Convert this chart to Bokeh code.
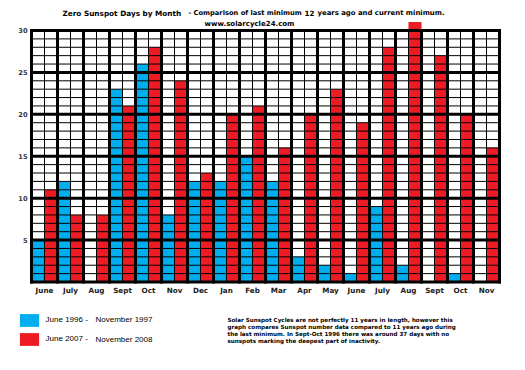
from bokeh.plotting import figure
from bokeh.models import Label, Legend, LegendItem
from bokeh.core.properties import value
from bokeh.embed import file_html
from bokeh.resources import INLINE

# ---- data ----
months = ["June", "July", "Aug", "Sept", "Oct", "Nov", "Dec", "Jan", "Feb",
          "Mar", "Apr", "May", "June", "July", "Aug", "Sept", "Oct", "Nov"]
spotless_1996_97 = [5, 12, 0, 23, 26, 8, 12, 12, 15, 12, 3, 2, 1, 9, 2, 0, 1, 0]
spotless_2007_08 = [11, 8, 8, 21, 28, 24, 13, 20, 21, 16, 20, 23, 19, 28, 31, 27, 20, 16]
y_ticks = [5, 10, 15, 20, 25, 30]
series_start = ["June 1996 -", "June 2007 -"]
series_end = ["November 1997", "November 2008"]
title_parts = ["Zero Sunspot Days by Month", "- Comparison of last minimum", "12",
               "years ago and current minimum."]
subtitle = "www.solarcycle24.com"
note_lines = [
    "Solar Sunspot Cycles are not perfectly 11 years in length, however this",
    "graph compares Sunspot number data compared to 11 years ago during",
    "the last minimum. In Sept-Oct 1996 there was around 37 days with no",
    "sunspots marking the deepest part of inactivity.",
]

BLUE = "#00AEEF"
RED = "#ED1C24"

W, H = 525, 370
n_cols = 2 * len(months)
y_max = max(y_ticks)
X0_PX, PX_X = 31.0, 13.0          # page x of value 0, px per column
Y0_PX, PX_Y = 281.5, 251.5 / 30   # page y of value 0, px per unit

def fx(px):
    return px
def fy(py):
    return H - py

p = figure(width=W, height=H,
           x_range=(-X0_PX / PX_X, (W - X0_PX) / PX_X),
           y_range=(-(H - Y0_PX) / PX_Y, Y0_PX / PX_Y),
           output_backend="svg", toolbar_location=None,
           x_axis_location=None, y_axis_location=None,
           min_border=0, min_border_left=0, min_border_right=0,
           min_border_top=0, min_border_bottom=0)
p.outline_line_color = None
p.grid.visible = False
p.background_fill_color = "white"
p.border_fill_color = "white"

xb = [2 * i + 0.5 for i in range(len(months))]
xr = [2 * i + 1.5 for i in range(len(months))]
rb = p.vbar(x=xb, top=spotless_1996_97, width=1, bottom=0, fill_color=BLUE, line_color=None)
rr = p.vbar(x=xr, top=spotless_2007_08, width=1, bottom=0, fill_color=RED, line_color=None)

# grid lines drawn over bars
thin_v = [k for k in range(n_cols + 1) if k % 2 == 1]
thick_v = [k for k in range(n_cols + 1) if k % 2 == 0]
thin_h = [k for k in range(0, y_max + 1) if k % 5 != 0]
thick_h = [0] + y_ticks
p.segment(x0=thin_v, y0=[0] * len(thin_v), x1=thin_v, y1=[y_max] * len(thin_v),
          line_color="black", line_width=1)
p.segment(x0=[0] * len(thin_h), y0=thin_h, x1=[n_cols] * len(thin_h), y1=thin_h,
          line_color="black", line_width=1)
p.segment(x0=thick_v, y0=[0] * len(thick_v), x1=thick_v, y1=[y_max] * len(thick_v),
          line_color="black", line_width=3, line_cap="square")
p.segment(x0=[0] * len(thick_h), y0=thick_h, x1=[n_cols] * len(thick_h), y1=thick_h,
          line_color="black", line_width=3, line_cap="square")

# tick labels
month_centers = [2 * i + 1 for i in range(len(months))]
p.text(x=month_centers, y=[0] * len(months), text=months, y_offset=8,
       text_align="center", text_baseline="middle", text_font=value("DejaVu Sans"),
       text_font_style="bold", text_font_size="7.2px", text_color="#222222")
p.text(x=[0] * len(y_ticks), y=y_ticks, text=[str(t) for t in y_ticks], x_offset=-4,
       text_align="right", text_baseline="middle", text_font=value("DejaVu Sans"),
       text_font_style="bold", text_font_size="6.6px", text_color="#333333")

# titles
tfont = dict(text_font="DejaVu Sans", text_font_style="bold",
             text_color="black", text_baseline="middle", x_units="screen", y_units="screen")
title_x = [62, 188, 304, 317]
title_sizes = ["7.3px", "6.7px", "7.2px", "6.9px"]
for px, part, sz in zip(title_x, title_parts, title_sizes):
    p.add_layout(Label(x=fx(px), y=fy(12.5), text=part, text_font_size=sz, **tfont))
p.add_layout(Label(x=fx(249), y=fy(23), text=subtitle, text_align="center",
                   text_font_size="7px", **tfont))

# legend
legend = Legend(items=[LegendItem(label=series_start[0], renderers=[rb]),
                       LegendItem(label=series_start[1], renderers=[rr])],
                location=(16.6, 23.4), orientation="vertical",
                glyph_width=24, glyph_height=16, label_height=16, spacing=3,
                padding=0, margin=0, border_line_color=None, background_fill_alpha=0,
                label_standoff=5, label_text_font="Liberation Sans",
                label_text_font_size="8px", label_text_color="black")
p.add_layout(legend, "center")
for i, txt in enumerate(series_end):
    p.add_layout(Label(x=fx(95), y=fy(319 + 19.5 * i), text=txt, text_font="Liberation Sans",
                       text_font_size="8px", text_color="black", text_baseline="middle",
                       x_units="screen", y_units="screen"))

# note
for i, line in enumerate(note_lines):
    p.add_layout(Label(x=fx(227), y=fy(319.3 + 6.9 * i), text=line,
                       text_font="DejaVu Sans", text_font_style="bold",
                       text_font_size="5.6px", text_color="black", text_baseline="middle",
                       x_units="screen", y_units="screen"))

open("out.html", "w").write(file_html(p, INLINE))
